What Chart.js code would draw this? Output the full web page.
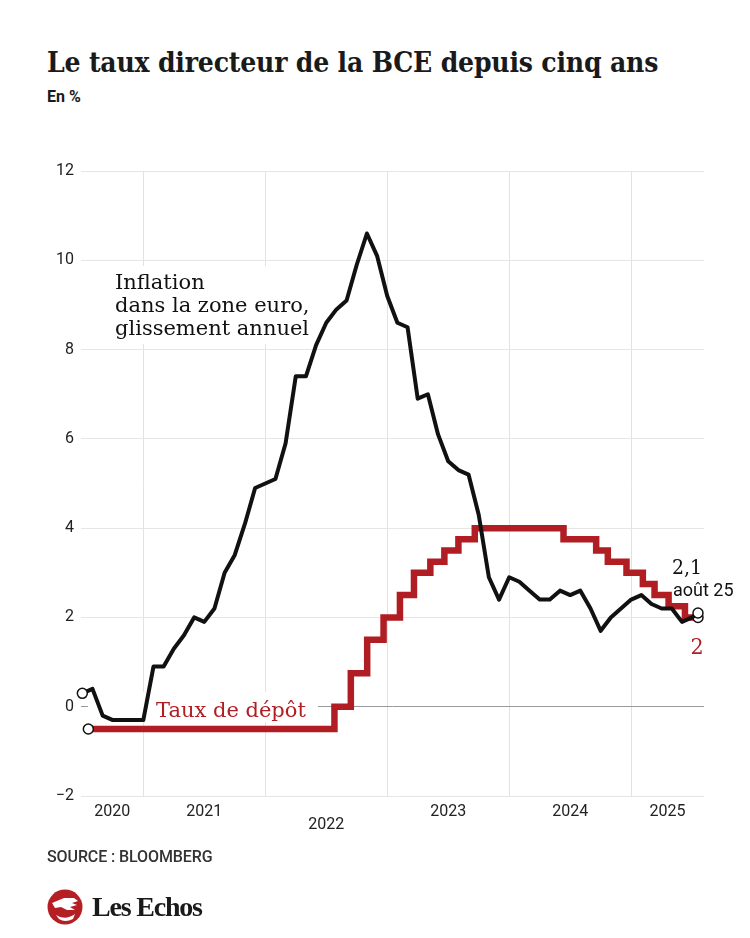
<!DOCTYPE html>
<html lang="fr">
<head>
<meta charset="utf-8">
<script src="https://cdn.jsdelivr.net/npm/chart.js@4.4.1/dist/chart.umd.min.js"></script>
<style>
  html, body { margin: 0; padding: 0; background: #fff; }
  body { width: 750px; height: 938px; position: relative; overflow: hidden; font-family: Roboto, sans-serif; color: #1a1a1a; }
  #chart { position: absolute; left: 0; top: 0; }
  .title { position: absolute; left: 47px; top: 49px; font-family: "DejaVu Serif Condensed", "DejaVu Serif", serif; font-weight: bold; font-size: 28px; line-height: 1; white-space: nowrap; letter-spacing: -0.2px; }
  .subtitle { position: absolute; left: 47px; top: 89px; font-weight: bold; font-size: 16px; line-height: 1; }
  .source { position: absolute; left: 47px; top: 849px; font-weight: 500; font-size: 16px; line-height: 1; letter-spacing: -0.1px; color: #333; }
  .logo { position: absolute; left: 47px; top: 889px; height: 36px; display: flex; align-items: center; }
  .logo span { margin-left: 9px; font-family: "Liberation Serif", serif; font-weight: bold; font-size: 28px; letter-spacing: -1.2px; color: #1a1a1a; }
</style>
</head>
<body>
<div class="title">Le taux directeur de la BCE depuis cinq ans</div>
<div class="subtitle">En %</div>
<canvas id="chart" width="750" height="938"></canvas>
<div class="source">SOURCE : BLOOMBERG</div>
<div class="logo">
  <svg width="36" height="36" viewBox="0 0 36 36">
    <circle cx="18" cy="18" r="17.5" fill="#b51f24"/>
    <path d="M5 14 L17 9 L27 9 L31 12 L25 14 L30 16 L23 18 L28 21 L20 21 L14 18 L8 19 Z" fill="#fff"/>
    <path d="M9 26 Q18 32 28 25 L26 30 Q18 34 12 30 Z" fill="#fff"/>
  </svg>
  <span>Les Echos</span>
</div>

<script>
// x axis: years, shown from end of June 2020 to early August 2025
const axisStart = '2020-06-28';
const axisEnd = '2025-08-07';
const yearLabels = ['2020', '2021', '2022', '2023', '2024', '2025'];
const loweredYears = ['2022'];
const yTicks = [-2, 0, 2, 4, 6, 8, 10, 12];

// euro area inflation, year-on-year, monthly from June 2020
const inflationStart = '2020-06';
const inflationValues = [
  0.3, 0.4, -0.2, -0.3, -0.3, -0.3, -0.3,
  0.9, 0.9, 1.3, 1.6, 2.0, 1.9, 2.2, 3.0, 3.4, 4.1, 4.9, 5.0,
  5.1, 5.9, 7.4, 7.4, 8.1, 8.6, 8.9, 9.1, 9.9, 10.6, 10.1, 9.2,
  8.6, 8.5, 6.9, 7.0, 6.1, 5.5, 5.3, 5.2, 4.3, 2.9, 2.4, 2.9,
  2.8, 2.6, 2.4, 2.4, 2.6, 2.5, 2.6, 2.2, 1.7, 2.0, 2.2, 2.4,
  2.5, 2.3, 2.2, 2.2, 1.9, 2.0
];
// last reading (august 2025), where the chart ends
const latestDate = '2025-07-20';
const latestValue = 2.1;
const latestLabel = 'août 25';

// ECB deposit facility rate, value from each change date
const rateDates = [
  '2020-07-20', '2022-07-27', '2022-09-14', '2022-11-02', '2022-12-21',
  '2023-02-08', '2023-03-22', '2023-05-10', '2023-06-21', '2023-08-02',
  '2023-09-20', '2024-06-12', '2024-09-18', '2024-10-23', '2024-12-18',
  '2025-02-05', '2025-03-12', '2025-04-23', '2025-06-11', latestDate
];
const rateValues = [
  -0.5, 0, 0.75, 1.5, 2,
  2.5, 3, 3.25, 3.5, 3.75,
  4, 3.75, 3.5, 3.25, 3,
  2.75, 2.5, 2.25, 2, 2
];

const RED = '#b01e23';
const SERIF = '"DejaVu Serif", serif';
const SERIF_C = '"DejaVu Serif Condensed", "DejaVu Serif", serif';

function toYear(s) {
  const [y, m, d] = s.split('-').map(Number);
  const t0 = Date.UTC(y, 0, 1), t1 = Date.UTC(y + 1, 0, 1);
  return y + (Date.UTC(y, m - 1, d) - t0) / (t1 - t0);
}
// monthly figures sit at the end of their month
function monthEnd(i) {
  const [y, m] = inflationStart.split('-').map(Number);
  return y + (m + i) / 12;
}
const fmt = (v) => String(v).replace('.', ',');

const inflationPoints = inflationValues.map((v, i) => ({ x: monthEnd(i), y: v }))
  .concat([{ x: toYear(latestDate), y: latestValue }]);
const ratePoints = rateDates.map((d, i) => ({ x: toYear(d), y: rateValues[i] }));

const endsOnly = (ctx) => {
  const n = ctx.dataset.data.length;
  return (ctx.dataIndex === 0 || ctx.dataIndex === n - 1) ? 5 : 0;
};

function whiteBox(ctx, x, y, w, h) {
  ctx.fillStyle = '#fff';
  ctx.fillRect(x, y, w, h);
}

const labelsPlugin = {
  id: 'labels',
  beforeDatasetsDraw(chart) {
    const ctx = chart.ctx;
    ctx.save();
    // inflation label
    whiteBox(ctx, 110, 266, 208, 78);
    ctx.fillStyle = '#111';
    ctx.font = '21px ' + SERIF;
    ctx.textBaseline = 'alphabetic';
    ctx.textAlign = 'left';
    ['Inflation', 'dans la zone euro,', 'glissement annuel'].forEach((t, i) => {
      ctx.fillText(t, 115, 289 + i * 23);
    });
    // deposit rate label
    whiteBox(ctx, 88, 692, 230, 30);
    ctx.fillStyle = RED;
    ctx.font = '21px ' + SERIF;
    ctx.fillText('Taux de dépôt', 156, 717);
    ctx.restore();
  },
  afterDatasetsDraw(chart) {
    const ctx = chart.ctx;
    const x = chart.scales.x, y = chart.scales.y;
    const ex = x.getPixelForValue(toYear(latestDate));
    const iy = y.getPixelForValue(latestValue);
    const ry = y.getPixelForValue(rateValues[rateValues.length - 1]);
    ctx.save();
    ctx.textAlign = 'left';
    ctx.textBaseline = 'alphabetic';
    ctx.fillStyle = '#111';
    ctx.font = '21px ' + SERIF_C;
    ctx.fillText(fmt(latestValue), ex - 26, iy - 39);
    ctx.font = '18px Roboto';
    ctx.fillText(latestLabel, ex - 25, iy - 17);
    ctx.fillStyle = RED;
    ctx.font = '23px ' + SERIF_C;
    ctx.textAlign = 'center';
    ctx.fillText(fmt(rateValues[rateValues.length - 1]), ex - 1, ry + 37);
    ctx.restore();
  }
};

Chart.defaults.font.family = 'Roboto';
Chart.defaults.color = '#222';

new Chart(document.getElementById('chart'), {
  type: 'line',
  data: {
    datasets: [
      {
        label: 'Inflation dans la zone euro',
        data: inflationPoints,
        borderColor: '#111',
        borderWidth: 4,
        borderJoinStyle: 'round',
        pointRadius: endsOnly,
        pointBackgroundColor: '#fff',
        pointBorderColor: '#111',
        pointBorderWidth: 1.5,
        clip: false,
        tension: 0
      },
      {
        label: 'Taux de dépôt',
        data: ratePoints,
        borderColor: RED,
        borderWidth: 6.5,
        stepped: 'before',
        pointRadius: endsOnly,
        pointBackgroundColor: '#fff',
        pointBorderColor: '#111',
        pointBorderWidth: 1.5,
        clip: false
      }
    ]
  },
  options: {
    responsive: false,
    animation: false,
    events: [],
    layout: { padding: { top: 171, right: 46, bottom: 102, left: 0 } },
    plugins: { legend: { display: false }, tooltip: { enabled: false } },
    scales: {
      x: {
        type: 'linear',
        min: toYear(axisStart),
        max: toYear(axisEnd),
        border: { display: false },
        grid: {
          drawTicks: false,
          color: (c) => (c.tick && c.tick.boundary) ? '#e2e2e2' : 'rgba(0,0,0,0)'
        },
        afterBuildTicks(scale) {
          const lo = scale.min, hi = scale.max, ticks = [];
          yearLabels.forEach((lab) => {
            const yr = Number(lab);
            if (yr > lo && yr < hi) ticks.push({ value: yr, boundary: true });
            const a = Math.max(yr, lo), b = Math.min(yr + 1, hi);
            ticks.push({ value: (a + b) / 2, year: lab });
          });
          ticks.sort((p, q) => p.value - q.value);
          scale.ticks = ticks;
        },
        afterFit(scale) { scale.height = 40; },
        ticks: {
          autoSkip: false,
          maxRotation: 0,
          padding: 10,
          font: { size: 16, lineHeight: 0.8 },
          callback(value, index, ticks) {
            const t = ticks[index];
            if (t.boundary) return '';
            return loweredYears.includes(t.year) ? ['', t.year] : t.year;
          }
        }
      },
      y: {
        min: yTicks[0],
        max: yTicks[yTicks.length - 1],
        border: { display: false },
        grid: {
          drawTicks: false,
          color: (c) => (c.tick && c.tick.value === 0) ? '#9a9a9a' : '#e6e6e6'
        },
        afterBuildTicks(scale) { scale.ticks = yTicks.map((v) => ({ value: v })); },
        afterFit(scale) { scale.width = 81; },
        ticks: {
          padding: 7,
          font: { size: 16 },
          callback: (v) => (v < 0 ? '\u2212' + Math.abs(v) : String(v))
        }
      }
    }
  },
  plugins: [labelsPlugin]
});
</script>
</body>
</html>
